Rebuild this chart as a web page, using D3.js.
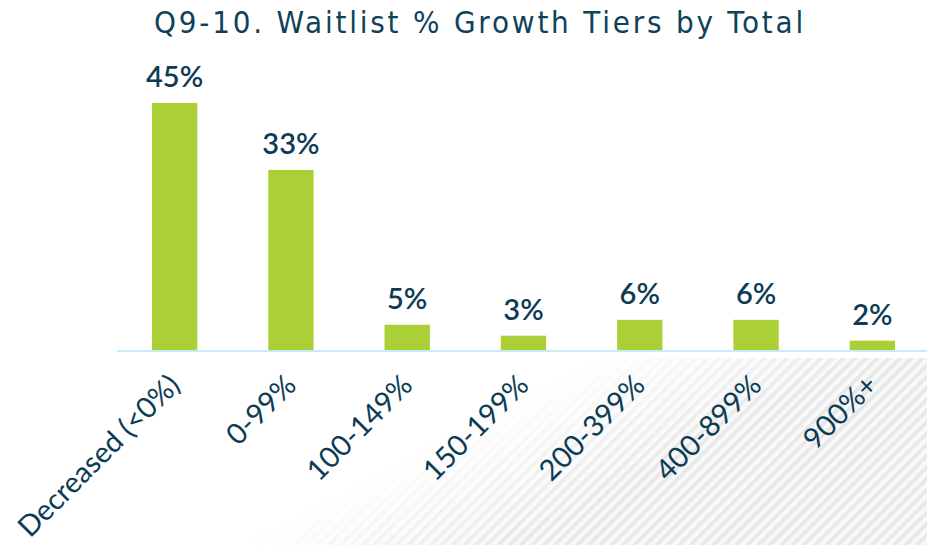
<!DOCTYPE html>
<html>
<head>
<meta charset="utf-8">
<script src="https://cdn.jsdelivr.net/npm/d3@7"></script>
<style>
  html, body { margin: 0; padding: 0; background: #ffffff; }
  svg { display: block; }
</style>
</head>
<body>
<svg id="chart" width="927" height="545"></svg>
<script>
// ---- data ----
const title = "Q9-10. Waitlist % Growth Tiers by Total";
const categories = ["Decreased (<0%)", "0-99%", "100-149%", "150-199%", "200-399%", "400-899%", "900%+"];
const values = [45.0, 32.8, 4.6, 2.6, 5.5, 5.5, 1.7];
const valueLabels = ["45%", "33%", "5%", "3%", "6%", "6%", "2%"];

// ---- setup ----
const W = 927, H = 545;
const svg = d3.select("#chart");
const textColor = "#0c3c55";
const barColor = "#abcf37";

const axisY = 350;
const x = d3.scaleBand().domain(categories).range([116.5, 930.5]).paddingInner(0.61).paddingOuter(0.305);
const y = d3.scaleLinear().domain([0, 45]).range([axisY, 103]);

// ---- background hatch ----
const defs = svg.append("defs");
const pat = defs.append("pattern")
  .attr("id", "hatch").attr("patternUnits", "userSpaceOnUse")
  .attr("width", 8).attr("height", 8)
  .attr("patternTransform", "rotate(45)");
pat.append("rect").attr("width", 8).attr("height", 8).attr("fill", "#f8f8f8");
pat.append("rect").attr("x", 0).attr("width", 3.5).attr("height", 8).attr("fill", "#e7e7e7");

const grad = defs.append("linearGradient").attr("id", "fade")
  .attr("gradientUnits", "userSpaceOnUse")
  .attr("x1", 480).attr("y1", 415).attr("x2", 540).attr("y2", 530);
grad.append("stop").attr("offset", 0).attr("stop-color", "#fff").attr("stop-opacity", 0);
grad.append("stop").attr("offset", 1).attr("stop-color", "#fff").attr("stop-opacity", 1);
const mask = defs.append("mask").attr("id", "fadeMask");
mask.append("rect").attr("width", W).attr("height", H).attr("fill", "url(#fade)");

svg.append("rect").attr("x", 0).attr("y", axisY + 8).attr("width", W).attr("height", H - axisY - 8)
  .attr("fill", "url(#hatch)").attr("mask", "url(#fadeMask)");

// ---- title ----
svg.append("text")
  .attr("x", 480).attr("y", 33)
  .attr("text-anchor", "middle")
  .attr("fill", "#0f4259")
  .style("font-family", "'DejaVu Sans Condensed', 'Liberation Sans Narrow', sans-serif")
  .style("font-stretch", "condensed")
  .style("font-size", "31px")
  .style("letter-spacing", "2.8px")
  .text(title);

// ---- bars ----
svg.append("g").selectAll("rect").data(values).join("rect")
  .attr("x", (d, i) => x(categories[i]))
  .attr("y", d => y(d))
  .attr("width", x.bandwidth())
  .attr("height", d => axisY - y(d))
  .attr("fill", barColor);

// ---- value labels ----
svg.append("g").selectAll("text").data(values).join("text")
  .attr("x", (d, i) => x(categories[i]) + x.bandwidth() / 2)
  .attr("y", d => y(d) - 16)
  .attr("text-anchor", "middle")
  .attr("fill", textColor)
  .style("font-family", "Lato, 'Open Sans', sans-serif")
  .style("font-weight", 600)
  .style("font-size", "29px")
  .text((d, i) => valueLabels[i]);

// ---- axis ----
const xAxis = d3.axisBottom(x).tickSize(0).tickPadding(0);
const gx = svg.append("g").attr("transform", `translate(0,${axisY})`).call(xAxis);
gx.select(".domain").remove();
svg.append("line")
  .attr("x1", 117).attr("x2", W).attr("y1", axisY + 1).attr("y2", axisY + 1)
  .attr("stroke", "#c9eaf8").attr("stroke-width", 2);
gx.selectAll(".tick text")
  .attr("x", 0).attr("y", 0).attr("dy", 0)
  .attr("text-anchor", "end")
  .attr("transform", "translate(7,37) rotate(-45)")
  .attr("fill", textColor)
  .style("font-family", "Lato, 'Open Sans', sans-serif")
  .style("font-weight", 400)
  .style("font-size", "29px");
</script>
</body>
</html>
